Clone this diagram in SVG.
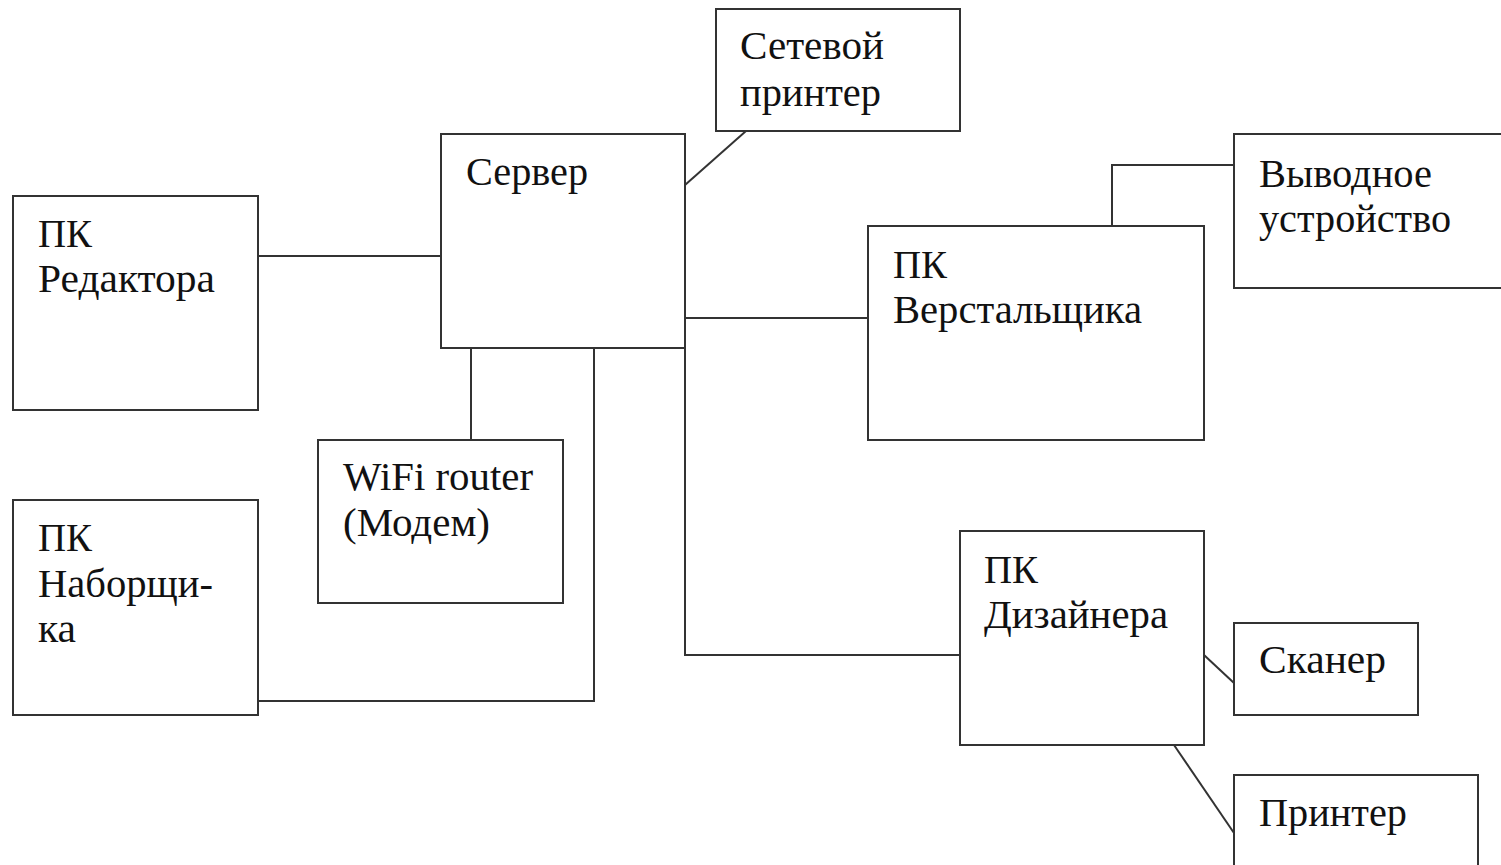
<svg xmlns="http://www.w3.org/2000/svg" width="1501" height="865" viewBox="0 0 1501 865">
<style>
.box{fill:#fff;stroke:#333;stroke-width:2}
.ln{fill:none;stroke:#333;stroke-width:2}
.t{font-family:'Liberation Serif','Times New Roman','DejaVu Serif',serif;font-size:40px;fill:#111}
</style>
<rect width="1501" height="865" fill="#fff"/>
<g id="connectors">
<line class="ln" x1="258" y1="256" x2="441" y2="256"/>
<line class="ln" x1="685" y1="185" x2="746" y2="131"/>
<line class="ln" x1="471" y1="348" x2="471" y2="440"/>
<polyline class="ln" points="258,701 594,701 594,348"/>
<polyline class="ln" points="685,348 685,655 960,655"/>
<line class="ln" x1="685" y1="318" x2="868" y2="318"/>
<polyline class="ln" points="1112,226 1112,165 1234,165"/>
<line class="ln" x1="1204" y1="655" x2="1234" y2="683"/>
<line class="ln" x1="1174" y1="745" x2="1234" y2="833"/>
</g>
<g id="editor">
<rect class="box" x="13" y="196" width="245" height="214"/>
<text class="t" x="38" y="247" textLength="54" lengthAdjust="spacingAndGlyphs">ПК</text>
<text class="t" x="38" y="292" textLength="177" lengthAdjust="spacingAndGlyphs">Редактора</text>
</g>
<g id="server">
<rect class="box" x="441" y="134" width="244" height="214"/>
<text class="t" x="466" y="185" textLength="122" lengthAdjust="spacingAndGlyphs">Сервер</text>
</g>
<g id="netprinter">
<rect class="box" x="716" y="9" width="244" height="122"/>
<text class="t" x="740" y="59" textLength="144" lengthAdjust="spacingAndGlyphs">Сетевой</text>
<text class="t" x="740" y="106" textLength="141" lengthAdjust="spacingAndGlyphs">принтер</text>
</g>
<g id="output">
<rect class="box" x="1234" y="134" width="270" height="154"/>
<text class="t" x="1259" y="187" textLength="173" lengthAdjust="spacingAndGlyphs">Выводное</text>
<text class="t" x="1259" y="232" textLength="192" lengthAdjust="spacingAndGlyphs">устройство</text>
</g>
<g id="layout">
<rect class="box" x="868" y="226" width="336" height="214"/>
<text class="t" x="893" y="278" textLength="54" lengthAdjust="spacingAndGlyphs">ПК</text>
<text class="t" x="893" y="323" textLength="249" lengthAdjust="spacingAndGlyphs">Верстальщика</text>
</g>
<g id="wifi">
<rect class="box" x="318" y="440" width="245" height="163"/>
<text class="t" x="343" y="490" textLength="190" lengthAdjust="spacingAndGlyphs">WiFi router</text>
<text class="t" x="343" y="536" textLength="147" lengthAdjust="spacingAndGlyphs">(Модем)</text>
</g>
<g id="typesetter">
<rect class="box" x="13" y="500" width="245" height="215"/>
<text class="t" x="38" y="551" textLength="54" lengthAdjust="spacingAndGlyphs">ПК</text>
<text class="t" x="38" y="597" textLength="175" lengthAdjust="spacingAndGlyphs">Наборщи-</text>
<text class="t" x="38" y="642" textLength="38" lengthAdjust="spacingAndGlyphs">ка</text>
</g>
<g id="designer">
<rect class="box" x="960" y="531" width="244" height="214"/>
<text class="t" x="984" y="583" textLength="54" lengthAdjust="spacingAndGlyphs">ПК</text>
<text class="t" x="984" y="628" textLength="184" lengthAdjust="spacingAndGlyphs">Дизайнера</text>
</g>
<g id="scanner">
<rect class="box" x="1234" y="623" width="184" height="92"/>
<text class="t" x="1259" y="673" textLength="127" lengthAdjust="spacingAndGlyphs">Сканер</text>
</g>
<g id="printer">
<rect class="box" x="1234" y="775" width="244" height="100"/>
<text class="t" x="1259" y="826" textLength="148" lengthAdjust="spacingAndGlyphs">Принтер</text>
</g>
</svg>
